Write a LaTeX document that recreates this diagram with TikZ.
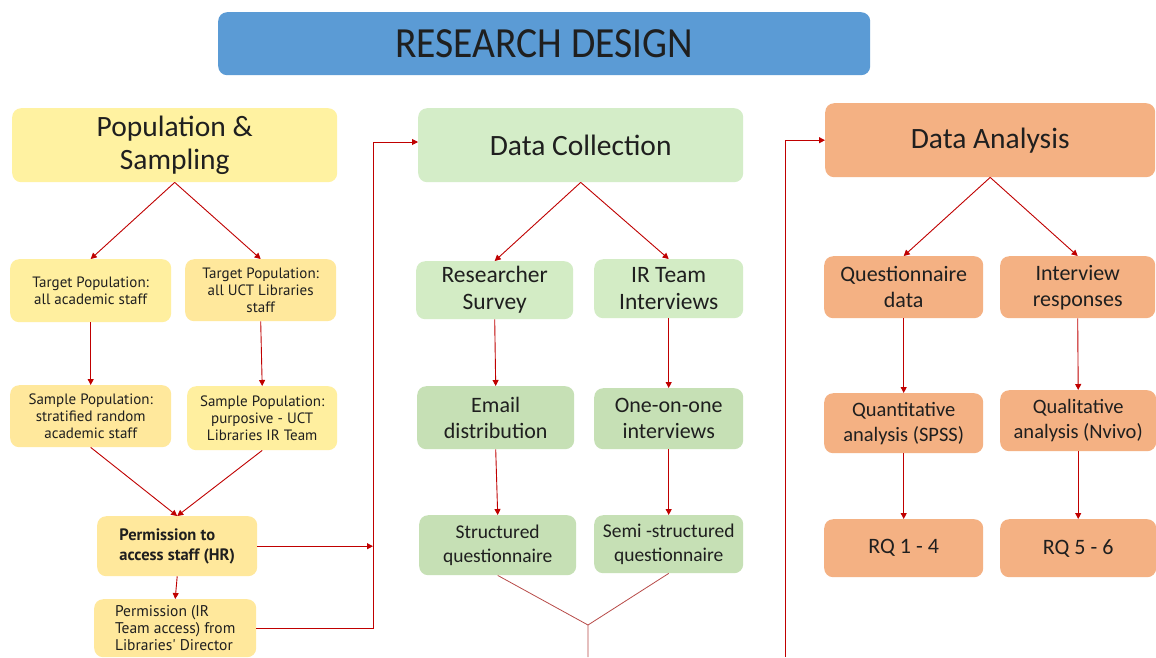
\documentclass[tikz,border=0pt]{standalone}
\usepackage{fontspec}
\setmainfont{Carlito}
\newfontfamily\notefont{PT Sans}
\newfontfamily\titlefont[FakeStretch=0.92]{Carlito}
\usetikzlibrary{arrows.meta}

\definecolor{titleblue}{HTML}{5B9BD5}
\definecolor{popyellow}{HTML}{FFF2A1}
\definecolor{subyellow}{HTML}{FFE89C}
\definecolor{headgreen}{HTML}{D4EDC8}
\definecolor{lightgreen}{HTML}{D3ECC5}
\definecolor{deepgreen}{HTML}{C6E0B5}
\definecolor{headorange}{HTML}{F4B183}
\definecolor{linkred}{HTML}{C00000}
\definecolor{softred}{HTML}{B84A48}

\tikzset{
  stage/.style={rounded corners=9pt, inner sep=0pt, align=center, text=black!88},
  headtext/.style={font=\fontsize{29.5}{33}\selectfont},
  bigtext/.style={font=\fontsize{23.5}{27}\selectfont},
  midtext/.style={font=\fontsize{22}{26}\selectfont},
  smalltext/.style={font=\fontsize{19.5}{24}\selectfont},
  notetext/.style={font=\notefont\fontsize{15}{17}\selectfont},
  link/.style={draw=linkred, line width=0.9pt},
  softlink/.style={draw=softred, line width=0.8pt},
  arrow/.style={link, -{Triangle[length=6pt,width=6pt]}},
}

% box from its top left (#2,#3) to bottom right (#4,#5), in pixels
\newcommand{\drawbox}[7]{
  \node[stage, #6, anchor=north west,
    minimum width={(#4-#2)*1pt}, minimum height={(#5-#3)*1pt}] (#1) at (#2,#3) {#7};
}

\begin{document}
\begin{tikzpicture}[x=1pt,y=-1pt]
  \clip (0,0) rectangle (1156,657);
  \fill[white] (0,0) rectangle (1156,657);

  \drawbox{title}{218}{12}{870}{75}{fill=titleblue, font={\titlefont\fontsize{43}{46}\selectfont}}{RESEARCH DESIGN}

  % population and sampling
  \drawbox{pop}{12}{108}{337}{182}{fill=popyellow, headtext}{Population \&\\Sampling}
  \drawbox{tpa}{10}{259}{171}{322}{fill=popyellow!70!subyellow, notetext}{Target Population:\\all academic staff}
  \drawbox{tpl}{185}{259}{336}{321}{fill=subyellow, notetext}{Target Population:\\all UCT Libraries\\staff}
  \drawbox{spa}{10}{385}{171}{447}{fill=subyellow, notetext}{Sample Population:\\stratified random\\academic staff}
  \drawbox{spl}{187}{386}{337}{450}{fill=popyellow!70!subyellow, notetext}{Sample Population:\\purposive - UCT\\Libraries IR Team}
  \drawbox{hr}{97}{516}{257}{576}{fill=subyellow, font={\notefont\bfseries\fontsize{16.5}{20}\selectfont}, align=left}{Permission to\\access staff (HR)}
  \drawbox{dir}{94}{599}{256}{657}{fill=subyellow, font={\notefont\fontsize{15.5}{17}\selectfont}, align=left}{Permission (IR\\Team access) from\\Libraries' Director}

  % data collection
  \drawbox{dc}{418}{108}{743}{182}{fill=headgreen, headtext}{Data Collection}
  \drawbox{rs}{416}{261}{573}{319}{fill=lightgreen, bigtext}{Researcher\\Survey}
  \drawbox{iri}{594}{259}{743}{318}{fill=lightgreen, bigtext}{IR Team\\Interviews}
  \drawbox{email}{417}{386}{574}{449}{fill=deepgreen, midtext}{Email\\distribution}
  \drawbox{one}{594}{388}{743}{449}{fill=deepgreen, midtext}{One-on-one\\interviews}
  \drawbox{sq}{419}{515}{576}{575}{fill=deepgreen, smalltext}{Structured\\questionnaire}
  \drawbox{ssq}{594}{515}{743}{573}{fill=deepgreen, smalltext}{Semi -structured\\questionnaire}

  % data analysis
  \drawbox{da}{825}{103}{1155}{177}{fill=headorange, headtext}{Data Analysis}
  \drawbox{qd}{824}{256}{983}{318}{fill=headorange, midtext}{Questionnaire\\data}
  \drawbox{ir}{1000}{256}{1155}{318}{fill=headorange, midtext}{Interview\\responses}
  \drawbox{quan}{824}{393}{983}{453}{fill=headorange, font=\fontsize{20.5}{25}\selectfont}{Quantitative\\analysis (SPSS)}
  \drawbox{qual}{1000}{390}{1156}{451}{fill=headorange, font=\fontsize{20.5}{25}\selectfont}{Qualitative\\analysis (Nvivo)}
  \drawbox{rqa}{824}{519}{983}{577}{fill=headorange, midtext}{RQ 1 - 4}
  \drawbox{rqb}{1000}{519}{1156}{577}{fill=headorange, midtext}{RQ 5 - 6}

  \foreach \a/\b in {pop/tpa, pop/tpl, tpa/spa, tpl/spl, spa/hr, spl/hr, hr/dir,
      dc/rs, dc/iri, rs/email, iri/one, email/sq, one/ssq,
      da/qd, da/ir, qd/quan, ir/qual, quan/rqa, qual/rqb}{
    \draw[arrow] (\a.south) -- (\b.north);
  }

  \coordinate (railA) at (373,142);
  \coordinate (fork) at (588,625);
  \coordinate (forkend) at (588,657);
  \coordinate (railB) at (785,657);

  \draw[arrow] (hr.east) -- (hr.east -| railA);
  \draw[arrow] (dir.east) -| (railA) -- (railA -| dc.west);
  \draw[softlink] (sq.south) -- (fork) -- (forkend) (ssq.south) -- (fork);
  \draw[arrow] (railB) |- (da.west);
\end{tikzpicture}
\end{document}
